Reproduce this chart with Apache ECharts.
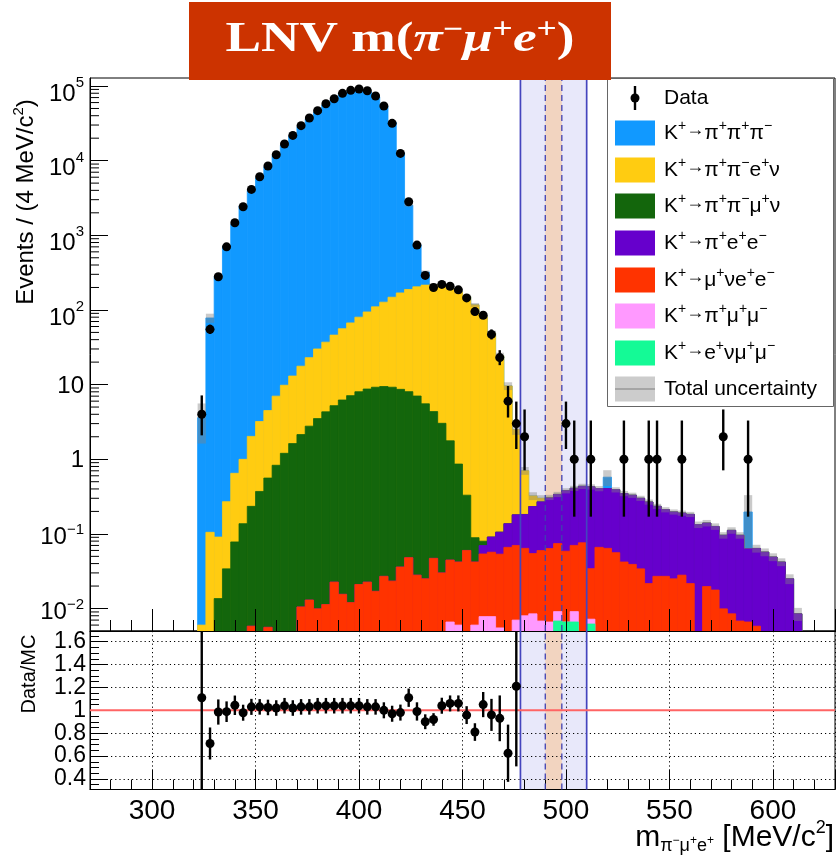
<!DOCTYPE html>
<html>
<head>
<meta charset="utf-8">
<script src="https://cdn.jsdelivr.net/npm/echarts@6/dist/echarts.min.js"></script>
<style>
  html, body { margin: 0; padding: 0; background: #ffffff; }
  #chart { width: 836px; height: 855px; }
</style>
</head>
<body>
<div id="chart"></div>
<script>
// ---- Histogram binning: centres of the 4 MeV/c^2 bins (m(pi- mu+ e+)) ----
const binCenters = [324,328,332,336,340,344,348,352,356,360,364,368,372,376,380,384,388,392,396,400,
  404,408,412,416,420,424,428,432,436,440,444,448,452,456,460,464,468,472,476,480,
  484,488,492,496,500,504,508,512,516,520,524,528,532,536,540,544,548,552,556,560,
  564,568,572,576,580,584,588,592,596,600,604,608,612,616];

// ---- Simulated background contributions (events per bin) ----
const kPiPiPi = [3.6,78,280,710,1410,2460,4000,5910,8270,11760,16050,21360,28530,36190,44870,55640,64950,76680,84070,87610,
  83890,71250,53870,32430,12590,2340,540,107,0,0,0,0,0,0,0,0,0,0,0,0,
  0,0,0,0,0,0,0,0,0,0.17,0,0,0,0,0,0,0,0,0,0,
  0,0,0,0,0,0,0.133,0,0,0,0,0,0,0];
const kPiPiENu = [0.006,0.105,0.077,0.236,0.57,0.86,1.79,2.83,3.93,6.17,8.6,11.4,15.5,20.2,26.5,32.7,40.8,49.8,59.9,72,
  85.3,100.8,117.6,138.8,160.4,180,197,209.5,212.7,209,194.2,174,150.6,116.9,80.9,48.9,24.2,9.46,2.31,0.52,
  0.09,0.03,0.005,0,0,0,0,0,0,0,0,0,0,0,0,0,0,0,0,0,
  0,0,0,0,0,0,0,0,0,0,0,0,0,0];
const kPiPiMuNu = [0,0,0.0136,0.034,0.078,0.137,0.228,0.37,0.554,0.83,1.2,1.62,2.13,2.76,3.49,4.3,5.2,6.2,7.1,8.0,
  8.7,9.2,9.4,9.2,8.6,8.0,7.0,5.5,4.3,3.0,1.72,0.82,0.27,0.047,0.01,0,0,0,0,0,
  0,0,0,0,0,0,0,0,0,0,0,0,0,0,0,0,0,0,0,0,
  0,0,0,0,0,0,0,0,0,0,0,0,0,0];
const kPiEE = [0,0,0,0,0,0,0,0,0,0,0,0,0,0,0,0,0,0,0,0,
  0,0,0,0,0,0,0,0,0,0,0,0,0,0,0.016,0.034,0.052,0.071,0.11,0.118,
  0.178,0.21,0.24,0.264,0.32,0.338,0.358,0.393,0.339,0.341,0.334,0.305,0.291,0.266,0.246,0.207,0.184,0.172,0.162,0.161,
  0.13,0.12,0.108,0.086,0.103,0.089,0.057,0.058,0.057,0.049,0.042,0.025,0.0085,0];
const kMuNuEE = [0,0,0,0,0,0,0.0058,0,0.0056,0,0,0,0.0105,0.013,0.0099,0.0113,0.0226,0.0155,0.012,0.021,
  0.0226,0.017,0.027,0.0233,0.036,0.048,0.028,0.025,0.047,0.030,0.038,0.036,0.060,0.036,0.046,0.049,0.048,0.066,0.063,0.056,
  0.046,0.053,0.057,0.065,0.052,0.061,0.076,0.027,0.066,0.064,0.056,0.042,0.039,0.034,0.0216,0.027,0.027,0.025,0.028,0.0216,
  0.003,0.0197,0.0177,0.0099,0.0085,0.0068,0.0066,0.0058,0,0,0,0,0,0];
const kPiMuMu = [0,0,0,0,0,0,0,0,0,0,0,0,0,0,0,0,0,0,0,0,
  0,0,0,0,0,0,0,0,0,0,0.0066,0.006,0,0.006,0.0078,0.0078,0.0055,0,0.007,0.008,
  0.0085,0.0068,0.0066,0.0023,0,0.0025,0,0.001,0,0,0,0,0,0,0,0,0,0,0,0,
  0,0,0,0,0,0,0,0,0,0,0,0,0,0];
const kENuMuMu = [0,0,0,0,0,0,0,0,0,0,0,0,0,0,0,0,0,0,0,0,
  0,0,0,0,0,0,0,0,0,0,0,0,0,0,0,0,0,0,0,0,
  0,0,0,0.0068,0.0066,0.0066,0,0.0062,0,0,0,0,0,0,0,0,0,0,0,0,
  0,0,0,0,0,0,0,0,0,0,0,0,0,0];
// relative total uncertainty of the summed simulation
const mcRelUnc = [0.55,0.14,0.07,0.05,0.04,0.035,0.03,0.03,0.03,0.03,0.03,0.03,0.03,0.03,0.03,0.03,0.03,0.03,0.03,0.03,
  0.03,0.03,0.03,0.03,0.035,0.04,0.045,0.05,0.05,0.05,0.05,0.05,0.06,0.06,0.07,0.08,0.1,0.12,0.15,0.12,
  0.12,0.1,0.08,0.08,0.08,0.08,0.08,0.08,0.08,0.24,0.08,0.08,0.08,0.08,0.08,0.08,0.08,0.08,0.08,0.08,
  0.1,0.1,0.1,0.1,0.1,0.1,0.68,0.12,0.12,0.12,0.12,0.15,0.2,0];

// ---- Observed data ----
const dataCounts = [4,55,278,701,1472,2411,4121,6095,8478,12000,16700,21800,29400,37300,46700,57900,67600,79800,87500,91200,
  86500,73500,54000,31600,12500,2810,740,290,200,220,208,186,145,95,85,47,23,6,3,2,
  0,0,0,0,3,1,0,1,0,0,0,1,0,0,1,1,0,0,1,0,
  0,0,0,2,0,0,1,0,0,0,0,0,0,0];
const dataErrLow = [1.91,7.4,16.7,26,38,49,64,78,92,110,129,148,171,193,216,241,260,282,296,302,
  294,271,232,178,112,53,27,17,14,15,14.4,13.6,12,9.7,9.2,6.8,4.8,2.38,1.63,1.29,
  0,0,0,0,1.63,0.83,0,0.83,0,0,0,0.83,0,0,0.83,0.83,0,0,0.83,0,
  0,0,0,1.29,0,0,0.83,0,0,0,0,0,0,0];
const dataErrHigh = [3.16,8.4,17.2,27,39,50,65,79,93,110,129,148,171,193,216,241,260,282,296,302,
  294,271,232,178,112,54,28,18,15,16,15,14.2,13,10.8,10.3,7.9,5.9,3.58,2.92,2.64,
  0,0,0,0,2.92,2.3,0,2.3,0,0,0,2.3,0,0,2.3,2.3,0,0,2.3,0,
  0,0,0,2.64,0,0,2.3,0,0,0,0,0,0,0];

// ---- Data / MC ratio (first 39 bins) ----
const ratioValues = [1.11,0.71,0.985,0.988,1.044,0.979,1.03,1.03,1.025,1.02,1.04,1.02,1.03,1.03,1.04,1.04,1.04,1.04,1.04,1.04,
  1.03,1.03,1.0,0.97,0.98,1.11,0.99,0.90,0.92,1.04,1.06,1.06,0.958,0.81,1.05,0.96,0.93,0.625,1.21];
const ratioErrors = [1.0,0.14,0.11,0.09,0.085,0.07,0.07,0.068,0.068,0.068,0.068,0.068,0.068,0.068,0.068,0.068,0.068,0.068,0.068,0.068,
  0.068,0.068,0.07,0.07,0.07,0.08,0.08,0.065,0.055,0.07,0.07,0.07,0.078,0.077,0.11,0.14,0.2,0.25,0.7];

// ---- Mass windows ----
const blindWindow = [478, 510];
const signalWindow = [490, 498];

// ---- Tick labels ----
const massTickValues = [300, 350, 400, 450, 500, 550, 600];
const massTickLabels = ['300', '350', '400', '450', '500', '550', '600'];
const decadeValues = [0.01, 0.1, 1, 10, 100, 1000, 10000, 100000];
const decadeLabels = ['10^-2', '10^-1', '1', '10', '10^2', '10^3', '10^4', '10^5'];
const minorDecades = [0.001, 0.01, 0.1, 1, 10, 100, 1000, 10000, 100000];
const minorMultipliers = [2, 3, 4, 5, 6, 7, 8, 9];
const ratioTickValues = [0.4, 0.6, 0.8, 1.0, 1.2, 1.4, 1.6];
const ratioTickLabels = ['0.4', '0.6', '0.8', '1', '1.2', '1.4', '1.6'];

// ---- Legend / stack definition (legend order; stack is built bottom-up from the end) ----
const layers = [
  { label: 'K^+→π^+π^+π^-',  values: kPiPiPi,   color: '#1199FF' },
  { label: 'K^+→π^+π^-e^+ν', values: kPiPiENu,  color: '#FFCC11' },
  { label: 'K^+→π^+π^-μ^+ν', values: kPiPiMuNu, color: '#13660C' },
  { label: 'K^+→π^+e^+e^-',  values: kPiEE,     color: '#6600CC' },
  { label: 'K^+→μ^+νe^+e^-', values: kMuNuEE,   color: '#FF3300' },
  { label: 'K^+→π^+μ^+μ^-',  values: kPiMuMu,   color: '#FF99FF' },
  { label: 'K^+→e^+νμ^+μ^-', values: kENuMuMu,  color: '#14FA96' }
];

const FONT = 'Liberation Sans, Arial, Helvetica, sans-serif';
const SERIF = 'Liberation Serif, Times New Roman, serif';
const X_MIN = 270, X_MAX = 630;
const Y_MIN = 0.005, Y_MAX = 128000;
const R_MIN = 0.308, R_MAX = 1.693;
const BIN_HALF = 2;

// cumulative stack tops: cumulative[k] = sum of layers k..end
const nBins = binCenters.length;
const cumulative = layers.map(() => new Array(nBins).fill(0));
for (let i = 0; i < nBins; i++) {
  let s = 0;
  for (let k = layers.length - 1; k >= 0; k--) {
    s += layers[k].values[i];
    cumulative[k][i] = s;
  }
}
const mcTotal = cumulative[0];

// ---- render helpers ----
function histRender(color) {
  return function (params, api) {
    const c = api.value(0), top = api.value(1);
    const p0 = api.coord([c - BIN_HALF, Math.min(top, Y_MAX)]);
    const p1 = api.coord([c + BIN_HALF, Y_MIN]);
    return { type: 'rect',
      shape: { x: p0[0], y: p0[1], width: p1[0] - p0[0], height: p1[1] - p0[1] },
      style: { fill: color, stroke: color, lineWidth: 0.8 } };
  };
}
function bandRender(lo, hi) {
  return function (params, api) {
    const p0 = api.coord([api.value(0), hi]);
    const p1 = api.coord([api.value(1), lo]);
    return { type: 'rect',
      shape: { x: p0[0], y: p0[1], width: p1[0] - p0[0], height: p1[1] - p0[1] },
      style: { fill: api.value(2) === 1 ? '#E8E8FA' : '#F2D4C0' } };
  };
}
function errRender(lo, hi) {
  return function (params, api) {
    const c = api.value(0);
    const a = api.coord([c, Math.max(api.value(2), lo)]);
    const b = api.coord([c, Math.min(api.value(3), hi)]);
    return { type: 'line', shape: { x1: a[0], y1: a[1], x2: b[0], y2: b[1] },
      style: { stroke: '#000', lineWidth: 2.4 } };
  };
}

const series = [];

// mass-window shading
series.push({ type: 'custom', xAxisIndex: 0, yAxisIndex: 0, z: 1, silent: true,
  data: [[blindWindow[0], blindWindow[1], 1], [signalWindow[0], signalWindow[1], 2]],
  encode: { x: [0, 1], y: 2 }, renderItem: bandRender(Y_MIN, Y_MAX) });
series.push({ type: 'custom', xAxisIndex: 1, yAxisIndex: 1, z: 1, silent: true,
  data: [[blindWindow[0], blindWindow[1], 1], [signalWindow[0], signalWindow[1], 2]],
  encode: { x: [0, 1], y: 2 }, renderItem: bandRender(R_MIN, R_MAX) });

// stacked background histograms (tallest first, lower layers painted over it)
layers.forEach((layer, k) => {
  const pts = [];
  for (let i = 0; i < nBins; i++) {
    if (cumulative[k][i] > Y_MIN) pts.push([binCenters[i], cumulative[k][i]]);
  }
  series.push({ type: 'custom', name: layer.label, xAxisIndex: 0, yAxisIndex: 0, z: 2, silent: true,
    data: pts, encode: { x: 0, y: 1 }, renderItem: histRender(layer.color) });
});

// total uncertainty boxes
const uncData = [];
for (let i = 0; i < nBins; i++) {
  const t = mcTotal[i];
  if (t > Y_MIN && mcRelUnc[i] > 0) {
    uncData.push([binCenters[i], Math.max(t * (1 - mcRelUnc[i]), Y_MIN), t * (1 + mcRelUnc[i])]);
  }
}
series.push({ type: 'custom', name: 'Total uncertainty', xAxisIndex: 0, yAxisIndex: 0, z: 3, silent: true,
  data: uncData, encode: { x: 0, y: [1, 2] },
  renderItem: function (params, api) {
    const c = api.value(0);
    const p0 = api.coord([c - BIN_HALF, Math.min(api.value(2), Y_MAX)]);
    const p1 = api.coord([c + BIN_HALF, api.value(1)]);
    return { type: 'rect', shape: { x: p0[0], y: p0[1], width: p1[0] - p0[0], height: p1[1] - p0[1] },
      style: { fill: 'rgba(128,128,128,0.42)' } };
  } });

// window edge lines (solid = blind region, dashed = signal window)
const edgeLines = [
  { x: blindWindow[0], dashed: false }, { x: signalWindow[0], dashed: true },
  { x: signalWindow[1], dashed: true }, { x: blindWindow[1], dashed: false }
];
edgeLines.forEach(e => {
  [[0, Y_MIN, Y_MAX], [1, R_MIN, R_MAX]].forEach(([g, lo, hi]) => {
    series.push({ type: 'line', xAxisIndex: g, yAxisIndex: g, z: 11, silent: true, symbol: 'none',
      data: [[e.x, lo], [e.x, hi]],
      lineStyle: e.dashed ? { color: '#4040B0', width: 1.3, type: [6, 4] } : { color: '#4444BE', width: 1.7 } });
  });
});

// minor ticks of the logarithmic axis
const minorTickData = [];
minorDecades.forEach(d => minorMultipliers.forEach(m => {
  const v = d * m;
  if (v > Y_MIN * 1.0001 && v < Y_MAX) minorTickData.push([X_MIN, v]);
}));
series.push({ type: 'custom', xAxisIndex: 0, yAxisIndex: 0, z: 10, silent: true, clip: false,
  data: minorTickData, encode: { x: 0, y: 1 },
  renderItem: function (params, api) {
    const p = api.coord([api.value(0), api.value(1)]);
    return { type: 'line', shape: { x1: p[0], y1: p[1], x2: p[0] + 9, y2: p[1] }, style: { stroke: '#000', lineWidth: 1 } };
  } });

// observed data points
const dataPts = [], dataErr = [];
for (let i = 0; i < nBins; i++) {
  if (dataCounts[i] > 0) {
    dataPts.push([binCenters[i], dataCounts[i]]);
    dataErr.push([binCenters[i], dataCounts[i], dataCounts[i] - dataErrLow[i], dataCounts[i] + dataErrHigh[i]]);
  }
}
series.push({ type: 'custom', name: 'Data errors', xAxisIndex: 0, yAxisIndex: 0, z: 12, silent: true,
  data: dataErr, encode: { x: 0, y: [2, 3] }, renderItem: errRender(Y_MIN, Y_MAX) });
series.push({ type: 'scatter', name: 'Data', xAxisIndex: 0, yAxisIndex: 0, z: 13, silent: true,
  data: dataPts, symbol: 'circle', symbolSize: 9, itemStyle: { color: '#000', opacity: 1 } });

// ratio panel
series.push({ type: 'line', xAxisIndex: 1, yAxisIndex: 1, z: 11, silent: true, symbol: 'none',
  data: [[X_MIN, 1], [X_MAX, 1]], lineStyle: { color: '#FF6464', width: 2 } });
const ratioPts = [], ratioErr = [];
ratioValues.forEach((r, i) => {
  ratioPts.push([binCenters[i], r]);
  ratioErr.push([binCenters[i], r, r - ratioErrors[i], r + ratioErrors[i]]);
});
series.push({ type: 'custom', xAxisIndex: 1, yAxisIndex: 1, z: 12, silent: true,
  data: ratioErr, encode: { x: 0, y: [2, 3] }, renderItem: errRender(R_MIN, R_MAX) });
series.push({ type: 'scatter', name: 'Data/MC', xAxisIndex: 1, yAxisIndex: 1, z: 13, silent: true,
  data: ratioPts, symbol: 'circle', symbolSize: 9, itemStyle: { color: '#000', opacity: 1 } });

// ---- label formatting ----
function decadeRich(v) {
  const i = decadeValues.findIndex(t => Math.abs(v / t - 1) < 1e-6);
  if (i < 0) return '';
  const s = decadeLabels[i];
  if (s.indexOf('^') < 0) return '{p|' + s + '}';
  const [base, exp] = s.split('^');
  if (exp[0] === '-') return '{bn|' + base + '}{en|\u2212' + exp.slice(1) + '}';
  return '{bp|' + base + '}{ep|' + exp + '}';
}
function lookupLabel(values, labels) {
  return function (v) {
    const i = values.findIndex(t => Math.abs(t - v) < 1e-6);
    return i >= 0 ? labels[i] : '';
  };
}
// 'K^+→π^-' style markup -> rich text with raised charges and a centred arrow
function supRich(markup, b, s, a) {
  let out = '', buf = '';
  const flush = () => { if (buf) { out += '{' + b + '|' + buf + '}'; buf = ''; } };
  for (let i = 0; i < markup.length; i++) {
    const ch = markup[i];
    if (ch === '^') {
      flush();
      const q = markup[i + 1] === '-' ? '\u2212' : markup[i + 1];
      out += '{' + s + '|' + q + '}';
      i++;
    } else if (ch === '→' && a) {
      flush();
      out += '{' + a + '|→}';
    } else buf += ch;
  }
  flush();
  return out;
}

// ---- legend, title and axis titles ----
const legendRows = [133, 170, 206, 243, 280, 316, 353];
const legendRich = {
  b: { fontFamily: FONT, fontSize: 21, fill: '#000' },
  s: { fontFamily: FONT, fontSize: 14, fill: '#000', padding: [0, 0, 14, 0] },
  a: { fontFamily: FONT, fontSize: 18, fill: '#000', padding: [0, 0, 5, 0] }
};
const legendEls = [
  { type: 'rect', shape: { x: 607.5, y: 78.5, width: 226, height: 328 }, style: { fill: '#fff', stroke: '#666', lineWidth: 1 } },
  { type: 'line', shape: { x1: 635, y1: 86, x2: 635, y2: 110 }, style: { stroke: '#000', lineWidth: 2.4 } },
  { type: 'circle', shape: { cx: 635, cy: 98, r: 4.5 }, style: { fill: '#000' } },
  { type: 'text', x: 664, y: 98, style: { text: 'Data', font: '21px ' + FONT, fill: '#000', verticalAlign: 'middle' } }
];
layers.forEach((layer, k) => {
  const cy = legendRows[k];
  legendEls.push({ type: 'rect', shape: { x: 615, y: cy - 12.5, width: 40, height: 25 }, style: { fill: layer.color } });
  legendEls.push({ type: 'text', x: 664, y: cy,
    style: { text: supRich(layer.label, 'b', 's', 'a'), rich: legendRich, verticalAlign: 'middle', align: 'left' } });
});
legendEls.push({ type: 'rect', shape: { x: 615, y: 376.5, width: 40, height: 25 }, style: { fill: '#CCCCCC' } });
legendEls.push({ type: 'line', shape: { x1: 615, y1: 389, x2: 655, y2: 389 }, style: { stroke: '#999', lineWidth: 1.5 } });
legendEls.push({ type: 'text', x: 664, y: 389, style: { text: 'Total uncertainty', font: '21px ' + FONT, fill: '#000', verticalAlign: 'middle' } });

const titleRich = {
  n: { fill: '#fff', fontFamily: SERIF, fontWeight: 'bold', fontSize: 42 },
  i: { fill: '#fff', fontFamily: SERIF, fontWeight: 'bold', fontStyle: 'italic', fontSize: 42 },
  s: { fill: '#fff', fontFamily: SERIF, fontWeight: 'bold', fontSize: 28, padding: [0, 0, 18, 0] }
};

const graphic = [
  { type: 'group', z: 100, children: legendEls },
  { type: 'rect', z: 100, shape: { x: 189, y: 2, width: 422, height: 78 }, style: { fill: '#CC3300' } },
  { type: 'text', z: 101, x: 400, y: 40, scaleX: 1.27, scaleY: 1.02,
    style: { text: '{n|LNV m(}{i|π}{s|\u2212}{i|μ}{s|+}{i|e}{s|+}{n|)}', rich: titleRich, align: 'center', verticalAlign: 'middle' } },
  { type: 'text', z: 100, x: 26, y: 202, rotation: Math.PI / 2,
    style: { text: '{t|Events / (4 MeV/c}{s|2}{t|)}', align: 'center', verticalAlign: 'middle',
      rich: { t: { fontFamily: FONT, fontSize: 24, fill: '#000' }, s: { fontFamily: FONT, fontSize: 15, fill: '#000', padding: [0, 0, 14, 0] } } } },
  { type: 'text', z: 100, x: 29, y: 674, rotation: Math.PI / 2,
    style: { text: 'Data/MC', font: '20px ' + FONT, fill: '#000', align: 'center', verticalAlign: 'middle' } },
  { type: 'text', z: 100, x: 834, y: 838,
    style: { text: '{m|m}{sb|π}{ss|\u2212}{sb|μ}{ss|+}{sb|e}{ss|+}{m| [MeV/c}{sp|2}{m|]}', align: 'right', verticalAlign: 'middle',
      rich: {
        m: { fontFamily: FONT, fontSize: 30, fill: '#000' },
        sb: { fontFamily: FONT, fontSize: 18, fill: '#000', padding: [16, 0, 0, 0] },
        ss: { fontFamily: FONT, fontSize: 12, fill: '#000', padding: [6, 0, 0, 0] },
        sp: { fontFamily: FONT, fontSize: 18, fill: '#000', padding: [0, 0, 20, 0] }
      } } }
];

const axisLineStyle = { show: true, lineStyle: { color: '#000', width: 1 } };

const option = {
  animation: false,
  backgroundColor: '#ffffff',
  textStyle: { fontFamily: FONT },
  grid: [
    { left: 90, right: 1, top: 78, height: 553, show: true, borderColor: '#000', borderWidth: 1, backgroundColor: 'transparent', outerBoundsMode: 'none', containLabel: false },
    { left: 90, right: 1, top: 631, height: 158.5, show: true, borderColor: '#000', borderWidth: 1, backgroundColor: 'transparent', outerBoundsMode: 'none', containLabel: false }
  ],
  xAxis: [
    { type: 'value', gridIndex: 0, min: X_MIN, max: X_MAX, splitNumber: 7, z: 10,
      axisLine: axisLineStyle,
      axisTick: { show: true, inside: true, length: 22, lineStyle: { color: '#000' } },
      minorTick: { show: true, splitNumber: 5, length: 11, lineStyle: { color: '#000' } },
      axisLabel: { show: false }, splitLine: { show: false } },
    { type: 'value', gridIndex: 1, min: X_MIN, max: X_MAX, splitNumber: 7, z: 10,
      axisLine: axisLineStyle,
      axisTick: { show: true, inside: true, length: 20, lineStyle: { color: '#000' } },
      minorTick: { show: true, splitNumber: 5, length: 10, lineStyle: { color: '#000' } },
      axisLabel: { show: true, fontSize: 28, color: '#000', fontFamily: FONT, margin: 8,
        showMinLabel: false, showMaxLabel: false, formatter: lookupLabel(massTickValues, massTickLabels) },
      splitLine: { show: true, lineStyle: { color: '#000', width: 1, type: [1.2, 3] } } }
  ],
  yAxis: [
    { type: 'log', logBase: 10, gridIndex: 0, min: Y_MIN, max: Y_MAX, z: 10,
      axisLine: axisLineStyle,
      axisTick: { show: true, inside: true, length: 18, lineStyle: { color: '#000' } },
      axisLabel: { show: true, color: '#000', margin: 6, showMinLabel: false, showMaxLabel: false,
        formatter: decadeRich,
        rich: {
          p:  { fontFamily: FONT, fontSize: 24, color: '#000', padding: [3, 0, 0, 0] },
          bp: { fontFamily: FONT, fontSize: 24, color: '#000', padding: [16, 0, 0, 0] },
          ep: { fontFamily: FONT, fontSize: 15, color: '#000', padding: [0, 0, 6, 0] },
          bn: { fontFamily: FONT, fontSize: 24, color: '#000', padding: [7, 0, 0, 0] },
          en: { fontFamily: FONT, fontSize: 15, color: '#000', padding: [0, 0, 8, 0] }
        } },
      splitLine: { show: false } },
    { type: 'value', gridIndex: 1, min: R_MIN, max: R_MAX, splitNumber: 7, z: 10,
      axisLine: axisLineStyle,
      axisTick: { show: true, inside: true, length: 18, lineStyle: { color: '#000' } },
      minorTick: { show: true, splitNumber: 4, length: 9, lineStyle: { color: '#000' } },
      axisLabel: { show: true, fontSize: 23, color: '#000', fontFamily: FONT, margin: 4,
        showMinLabel: false, showMaxLabel: false, formatter: lookupLabel(ratioTickValues, ratioTickLabels) },
      splitLine: { show: true, lineStyle: { color: '#000', width: 1, type: [1.2, 3] } } }
  ],
  graphic: graphic,
  series: series
};

const chart = echarts.init(document.getElementById('chart'), null, { renderer: 'canvas', width: 836, height: 855 });
chart.setOption(option);
</script>
</body>
</html>
